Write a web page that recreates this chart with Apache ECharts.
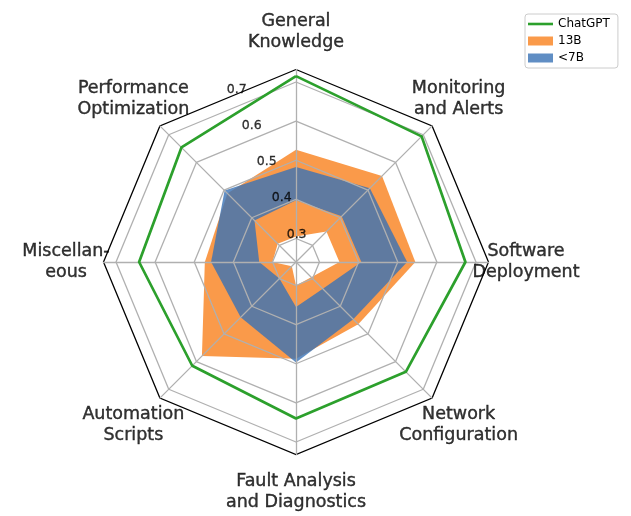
<!DOCTYPE html>
<html><head><meta charset="utf-8">
<script src="https://cdn.jsdelivr.net/npm/echarts@6/dist/echarts.min.js"></script>
<style>html,body{margin:0;padding:0;background:#fff}#c{width:631px;height:516px}</style>
</head><body><div id="c"></div><script>
// Categories in clockwise order starting from the top
const categories = ['General\nKnowledge','Monitoring\nand Alerts','Software\nDeployment','Network\nConfiguration','Fault Analysis\nand Diagnostics','Automation\nScripts','Miscellan-\neous','Performance\nOptimization'];
const chatgpt  = [0.715,0.694,0.673,0.637,0.640,0.615,0.641,0.654];
const upper13B = [0.527,0.551,0.545,0.465,0.487,0.580,0.473,0.488];
const lower13B = [0.305,0.350,0.351,0.295,0.300,0.255,0.300,0.306];
const upper7B  = [0.483,0.507,0.524,0.447,0.497,0.440,0.457,0.498];
const lower7B  = [0.398,0.405,0.407,0.337,0.355,0.300,0.334,0.390];
const radialTicks = [0.3,0.4,0.5,0.6,0.7];
const rMin = 0.24, rMax = 0.732;

const CENTER = [296, 262], RADIUS = 192.5;
const ORANGE = '#fa9a4a';
const BLUE_A = 'rgba(56,114,181,0.8)';
const BLUE_LEG = '#608ec4';
const FONT = 'DejaVu Sans';

// ECharts radar places indicators counter-clockwise; reorder clockwise data
const idxOrder = [0,7,6,5,4,3,2,1];
const ord = arr => idxOrder.map(i => arr[i]);

const fill = (name, values, color) => ({
  type: 'radar', name, z: 2, silent: true, symbol: 'none',
  lineStyle: { width: 0, opacity: 0 },
  itemStyle: { color },
  areaStyle: { color, opacity: 1 },
  data: [{ value: ord(values) }]
});

const labelR = rMin + 230 / RADIUS * (rMax - rMin);

const chart = echarts.init(document.getElementById('c'), null, { renderer: 'canvas' });
chart.setOption({
  animation: false,
  backgroundColor: '#fff',
  legend: {
    orient: 'vertical', left: 525, top: 14,
    itemWidth: 25, itemHeight: 9, itemGap: 3,
    padding: [3, 8, 3, 3],
    backgroundColor: '#fff', borderColor: '#cccccc', borderWidth: 1, borderRadius: 3,
    textStyle: { fontFamily: FONT, fontSize: 12, lineHeight: 14, color: '#000' },
    data: [
      { name: 'ChatGPT', icon: 'path://M0,0H25V2.6H0Z', itemStyle: { color: '#2ca02c' } },
      { name: '13B', icon: 'rect', itemStyle: { color: ORANGE } },
      { name: '<7B', icon: 'rect', itemStyle: { color: BLUE_LEG } }
    ],
    selectedMode: false
  },
  radar: {
    center: CENTER, radius: RADIUS, startAngle: 90, splitNumber: 1, z: 10,
    shape: 'polygon',
    indicator: ord(categories).map(() => ({ name: '', min: rMin, max: rMax })),
    axisName: { show: false },
    axisLine: { lineStyle: { color: '#b0b0b0', width: 1.3 } },
    axisTick: { show: false }, axisLabel: { show: false },
    splitLine: { lineStyle: { color: ['rgba(0,0,0,0)', '#000'], width: 1.3 } },
    splitArea: { show: false }
  },
  polar: { center: CENTER, radius: RADIUS },
  angleAxis: { type: 'value', min: 0, max: 360, startAngle: 90, clockwise: true, show: false },
  radiusAxis: { type: 'value', min: rMin, max: rMax, show: false },
  series: [
    fill('13B', upper13B, ORANGE),
    fill('_w1', lower13B, '#fff'),
    fill('<7B', upper7B, BLUE_A),
    fill('_o2', lower7B, ORANGE),
    fill('_w2', lower13B, '#fff'),
    {
      type: 'radar', name: '_grid', z: 8, silent: true, symbol: 'none',
      lineStyle: { color: '#b0b0b0', width: 1.3 },
      itemStyle: { color: '#b0b0b0' },
      data: radialTicks.map(t => ({ value: categories.map(() => t) }))
    },
    {
      type: 'radar', name: 'ChatGPT', z: 12, silent: true, symbol: 'none',
      lineStyle: { color: '#2ca02c', width: 2.7 },
      itemStyle: { color: '#2ca02c' },
      data: [{ value: ord(chatgpt) }]
    },
    {
      type: 'scatter', coordinateSystem: 'polar', z: 13, silent: true, clip: false,
      symbolSize: 0, itemStyle: { color: 'rgba(0,0,0,0)' },
      label: { show: true, position: 'inside', offset: [9.6, -6], formatter: p => p.name,
               fontFamily: FONT, fontSize: 12.5, color: '#000',
               textBorderColor: '#000', textBorderWidth: 0.3 },
      data: radialTicks.map(t => ({ name: t.toFixed(1), value: [t, 337.5] }))
    },
    {
      type: 'scatter', coordinateSystem: 'polar', z: 13, silent: true, clip: false,
      symbolSize: 0, itemStyle: { color: 'rgba(0,0,0,0)' },
      label: { show: true, position: 'inside', formatter: p => p.name, align: 'center',
               fontFamily: FONT, fontSize: 17.5, lineHeight: 21, color: '#000',
               textBorderColor: '#000', textBorderWidth: 0.4 },
      data: categories.map((c, i) => ({ name: c, value: [labelR, i * 45] }))
    }
  ]
});
</script></body></html>
